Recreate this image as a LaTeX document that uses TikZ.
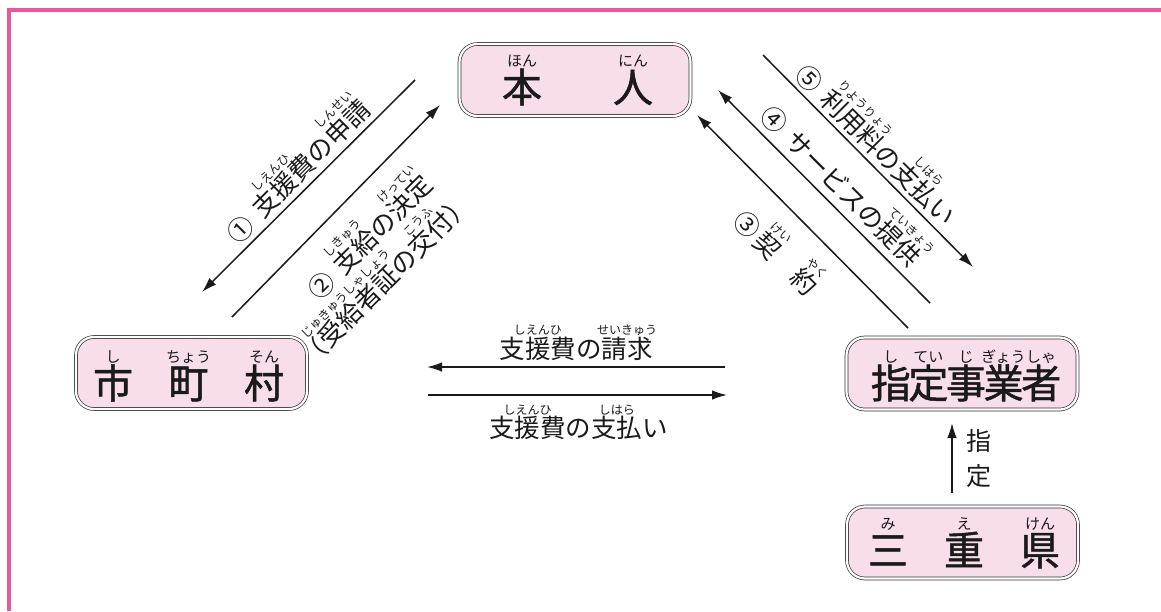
\documentclass[tikz,border=0pt]{standalone}
\usepackage{fontspec}
\setmainfont{Noto Sans CJK JP}
\newfontfamily\boxfont{Noto Sans CJK JP}[FakeBold=1.2]
\usetikzlibrary{arrows.meta}
\definecolor{framepink}{HTML}{E9579D}
\definecolor{boxpink}{HTML}{F7DEEA}
\definecolor{ink}{HTML}{1A1A1A}
\def\rubysz{12pt}
\def\rubyraise{0.95em}
\newcommand\rb[2]{\leavevmode\setbox0\hbox{#1}\rlap{\raisebox{\rubyraise}[0pt][0pt]{\makebox[\wd0][c]{\rmfamily\fontsize{\rubysz}{\rubysz}\selectfont #2}}}\box0}
\begin{document}
\begin{tikzpicture}[x=1pt,y=-1pt,
  box/.style={draw=black!80, line width=0.7pt, double=white, double distance=2.2pt,
    fill=boxpink, rounded corners=18pt, minimum width=231pt, minimum height=72pt, inner sep=0pt},
  big/.style={inner sep=0pt, text=ink, font=\boxfont\fontsize{40pt}{40pt}\selectfont},
  lbl/.style={inner sep=0pt, text=ink, font=\fontsize{25.5pt}{25.5pt}\selectfont},
  arr/.style={line width=1.5pt, draw=ink, -{Latex[length=15pt,width=9.5pt]}}]
\useasboundingbox (0,0) rectangle (1161,611);
\fill[white] (0,0) rectangle (1161,611);
% frame
\fill[framepink] (7,8) rectangle (1161,12);
\fill[framepink] (7,8) rectangle (11,611);
% boxes
\node[box] (honninbox) at (575,80) {};
\node[box] (shichosonbox) at (191.5,373) {};
\node[box] (jigyoshabox) at (962,373.5) {};
\node[box] (miebox) at (962.5,542.5) {};
% box texts
\node[big] (honnin) at (577.5,87) {\def\rubysz{15pt}\def\rubyraise{0.9em}\rb{本}{ほん}\hspace{71pt}\rb{人}{にん}};
\node[big] (shichoson) at (188.5,383) {\def\rubysz{15pt}\def\rubyraise{0.9em}\rb{市}{し}\hspace{35.5pt}\rb{町}{ちょう}\hspace{35.5pt}\rb{村}{そん}};
\node[big] (jigyosha) at (966,383) {\def\rubysz{15pt}\def\rubyraise{0.9em}\rb{指}{し}\hspace{-2.4pt}\rb{定}{てい}\hspace{-2.4pt}\rb{事}{じ}\hspace{-2.4pt}\rb{業}{ぎょう}\hspace{-2.4pt}\rb{者}{しゃ}};
\node[big] (mie) at (964,550) {\def\rubysz{15pt}\def\rubyraise{0.9em}\rb{三}{み}\hspace{36pt}\rb{重}{え}\hspace{36pt}\rb{県}{けん}};
% arrow end coordinates
\coordinate (a1s) at (415,80);  \coordinate (a1e) at (202,292);
\coordinate (a2s) at (232,317); \coordinate (a2e) at (440,105);
\coordinate (a5s) at (763,55);  \coordinate (a5e) at (973,267);
\coordinate (a4s) at (930,303); \coordinate (a4e) at (718,90);
\coordinate (a3s) at (908,328); \coordinate (a3e) at (697,115);
\coordinate (h1s) at (725,367); \coordinate (h1e) at (427,367);
\coordinate (h2s) at (428,395); \coordinate (h2e) at (727,395);
\coordinate (vs) at (952,493);  \coordinate (ve) at (952,423);
\draw[arr] (a1s) -- (a1e);
\draw[arr] (a2s) -- (a2e);
\draw[arr] (a5s) -- (a5e);
\draw[arr] (a4s) -- (a4e);
\draw[arr] (a3s) -- (a3e);
\draw[arr] (h1s) -- (h1e);
\draw[arr] (h2s) -- (h2e);
\draw[arr] (vs) -- (ve);
% diagonal labels
\node[lbl, rotate=45] (l1) at (298.5,171.5) {①\hspace{0.4em}\rb{支援費}{しえんひ}の\rb{申請}{しんせい}};
\node[lbl, rotate=45] (l2a) at (370,237) {②\hspace{0.4em}\rb{支給}{しきゅう}の\rb{決定}{けってい}};
\node[lbl, rotate=45] (l2b) at (386,280) {（\rb{受給者証}{じゅきゅうしゃしょう}の\rb{交付}{こうふ}）};
\node[lbl, rotate=-45] (l5) at (876,145) {⑤\hspace{0.4em}\rb{利用料}{りようりょう}の\rb{支払}{しはら}い};
\node[lbl, rotate=-45] (l4) at (841,186) {④\hspace{0.4em}サービスの\rb{提供}{ていきょう}};
\node[lbl, rotate=-45] (l3) at (775.5,253.5) {③\hspace{0.15em}\rb{契}{けい}　\rb{約}{やく}};
% horizontal labels
\node[lbl] (seikyu) at (576,349) {\rb{支援費}{しえんひ}の\rb{請求}{せいきゅう}};
\node[lbl] (shiharai) at (578.5,428) {\def\rubyraise{0.9em}\rb{支援費}{しえんひ}の\rb{支払}{しはら}い};
% designation label
\node[inner sep=0pt, text=ink, font=\fontsize{25pt}{35pt}\selectfont, align=center] (shitei) at (979,459) {指\\定};
\end{tikzpicture}
\end{document}
